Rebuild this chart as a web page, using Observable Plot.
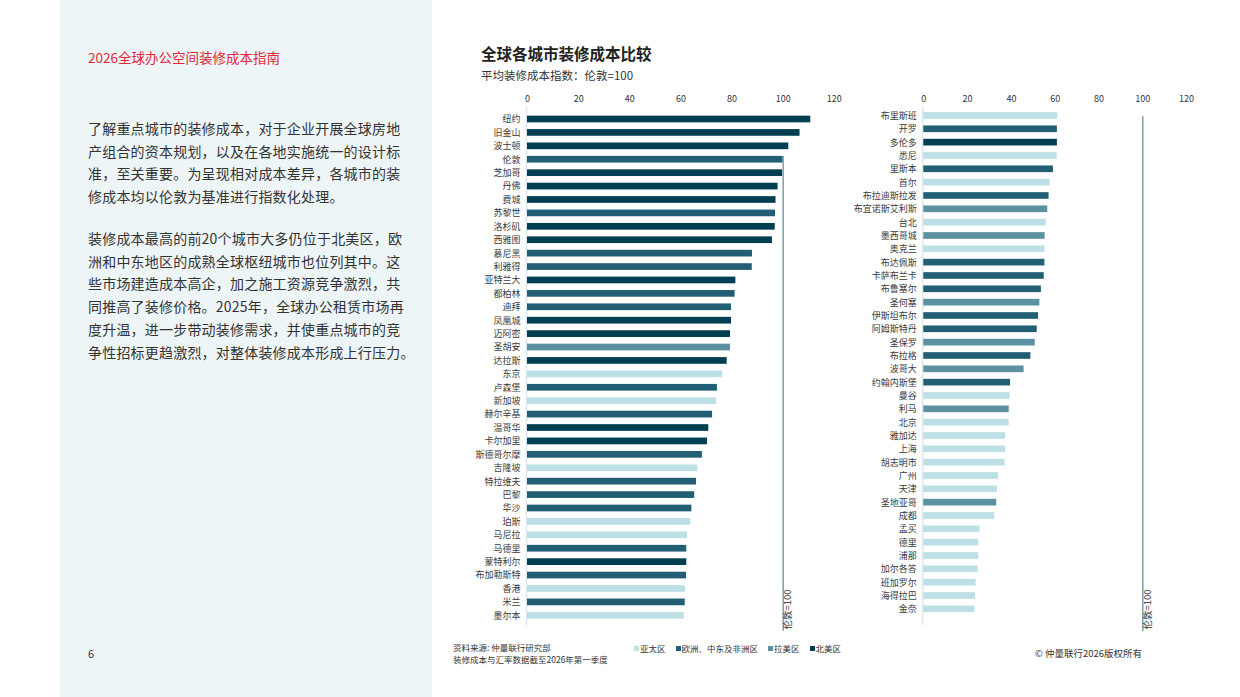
<!DOCTYPE html>
<html><head><meta charset="utf-8">
<script src="https://cdn.jsdelivr.net/npm/d3@7"></script>
<script src="https://cdn.jsdelivr.net/npm/@observablehq/plot@0.6"></script>
<style>
body{margin:0;width:1240px;height:697px;position:relative;background:#fff;font-family:"Noto Sans CJK SC","Noto Sans",sans-serif;color:#333;overflow:hidden}
.abs{position:absolute}
#panel{left:60px;top:0;width:372px;height:697px;background:#eef5f7}
#kicker{left:88px;top:48px;font-size:13.5px;line-height:18px;color:#e0283a;white-space:nowrap}
.para{left:88px;font-size:14px;line-height:22.7px;letter-spacing:0.2px;color:#333;white-space:nowrap}
#p1{top:117px}
#p2{top:227px}
#pageno{left:88px;top:645px;font-size:11px;line-height:16px;color:#333}
#title{left:481px;top:42px;font-size:15.5px;line-height:22px;font-weight:bold;color:#222;white-space:nowrap}
#subtitle{left:481px;top:67px;font-size:11.5px;line-height:17px;color:#333;white-space:nowrap}
#leftChart{left:440px;top:80px}
#rightChart{left:840px;top:80px}
#source{left:453px;top:641px;font-size:8.5px;line-height:12px;color:#333;white-space:nowrap}
#legend{left:634px;top:642px}
#copy{left:1035px;top:646px;font-size:9.5px;line-height:14px;color:#333;white-space:nowrap}
.lg-swatches{font-size:8.5px !important;font-family:"Noto Sans CJK SC",sans-serif !important;color:#333 !important;min-height:0 !important;margin:0 !important;line-height:12px}
.lg-swatch{margin-right:10px !important}
.lg-swatch > svg{margin-right:1px !important}
</style></head><body>
<div id="panel" class="abs"></div>
<div id="kicker" class="abs">2026全球办公空间装修成本指南</div>
<div id="p1" class="abs para">
<div>了解重点城市的装修成本，对于企业开展全球房地</div>
<div>产组合的资本规划，以及在各地实施统一的设计标</div>
<div>准，至关重要。为呈现相对成本差异，各城市的装</div>
<div>修成本均以伦敦为基准进行指数化处理。</div>
</div>
<div id="p2" class="abs para">
<div>装修成本最高的前20个城市大多仍位于北美区，欧</div>
<div>洲和中东地区的成熟全球枢纽城市也位列其中。这</div>
<div>些市场建造成本高企，加之施工资源竞争激烈，共</div>
<div>同推高了装修价格。2025年，全球办公租赁市场再</div>
<div>度升温，进一步带动装修需求，并使重点城市的竞</div>
<div>争性招标更趋激烈，对整体装修成本形成上行压力。</div>
</div>
<div id="pageno" class="abs">6</div>
<div id="title" class="abs">全球各城市装修成本比较</div>
<div id="subtitle" class="abs">平均装修成本指数：伦敦=100</div>
<div id="leftChart" class="abs"></div>
<div id="rightChart" class="abs"></div>
<div id="source" class="abs">资料来源: 仲量联行研究部<br>装修成本与汇率数据截至2026年第一季度</div>
<div id="legend" class="abs"></div>
<div id="copy" class="abs">© 仲量联行2026版权所有</div>
<script>
const regionKeys = ["AP", "EM", "LA", "NA"];
const regionNames = ["亚太区", "欧洲、中东及非洲区", "拉美区", "北美区"];
const regionColors = ["#bddfe6", "#235f74", "#5b91a0", "#003f52"];
const xTicks = [0, 20, 40, 60, 80, 100, 120];
const refLabel = "伦敦=100";

const leftCities = ["纽约","旧金山","波士顿","伦敦","芝加哥","丹佛","费城","苏黎世","洛杉矶","西雅图","慕尼黑","利雅得","亚特兰大","都柏林","迪拜","凤凰城","迈阿密","圣胡安","达拉斯","东京","卢森堡","新加坡","赫尔辛基","温哥华","卡尔加里","斯德哥尔摩","吉隆坡","特拉维夫","巴黎","华沙","珀斯","马尼拉","马德里","蒙特利尔","布加勒斯特","香港","米兰","墨尔本"];
const leftValues = [110.8,106.6,102.2,100,99.8,98.0,97.2,97.0,96.9,95.8,88.0,87.9,81.5,81.2,79.8,79.8,79.4,79.4,78.1,76.4,74.3,74.0,72.4,70.9,70.4,68.4,66.6,66.1,65.4,64.3,63.9,62.6,62.3,62.3,62.2,61.8,61.7,61.3];
const leftRegions = ["NA","NA","NA","EM","NA","NA","NA","EM","NA","NA","EM","EM","NA","EM","EM","NA","NA","LA","NA","AP","EM","AP","EM","NA","NA","EM","AP","EM","EM","EM","AP","AP","EM","NA","EM","AP","EM","AP"];

const rightCities = ["布里斯班","开罗","多伦多","悉尼","里斯本","首尔","布拉迪斯拉发","布宜诺斯艾利斯","台北","墨西哥城","奥克兰","布达佩斯","卡萨布兰卡","布鲁塞尔","圣何塞","伊斯坦布尔","阿姆斯特丹","圣保罗","布拉格","波哥大","约翰内斯堡","曼谷","利马","北京","雅加达","上海","胡志明市","广州","天津","圣地亚哥","成都","孟买","德里","浦那","加尔各答","班加罗尔","海得拉巴","金奈"];
const rightValues = [61.2,61.0,61.0,60.9,59.2,57.7,57.2,56.6,55.9,55.4,55.4,55.3,55.0,53.7,53.0,52.4,51.8,50.9,48.9,45.8,39.6,39.4,39.0,39.0,37.4,37.4,37.1,34.1,33.6,33.3,32.4,25.7,25.1,25.1,24.8,23.9,23.6,23.3];
const rightRegions = ["AP","EM","NA","AP","EM","AP","EM","LA","AP","LA","AP","EM","EM","EM","LA","EM","EM","LA","EM","LA","EM","AP","LA","AP","AP","AP","AP","AP","AP","LA","AP","AP","AP","AP","AP","AP","AP","AP"];

const font = '"Noto Sans CJK SC","Noto Sans",sans-serif';

function chart(cities, values, regs, o) {
  const data = cities.map((c, i) => ({city: c, value: values[i], region: regionNames[regionKeys.indexOf(regs[i])]}));
  return Plot.plot({
    width: o.width, height: 560,
    marginLeft: o.ml, marginRight: o.mr, marginTop: 26, marginBottom: 15,
    style: {fontFamily: font, fontSize: "9px", color: "#333", background: "transparent", overflow: "visible"},
    x: {domain: [0, 120], axis: null, label: null},
    y: {domain: cities, range: o.yRange, paddingInner: 0.5, paddingOuter: 0.25, round: false, axis: null, label: null},
    color: {domain: regionNames, range: regionColors},
    marks: [
      Plot.ruleX([0], {stroke: "#dce8ed", strokeWidth: 1.5, dx: -1}),
      Plot.axisX(xTicks, {anchor: "top", tickSize: 0, tickPadding: 5, fontSize: 9, fill: "#333"}),
      Plot.axisY({tickSize: 0, tickPadding: 7, fontSize: 9, fill: "#3a3a3a"}),
      Plot.barX(data, {x: "value", y: "city", fill: "region"}),
      Plot.ruleX([100], {y1: () => o.refStart, y2: () => cities[cities.length - 1], stroke: "#7f9cac", strokeWidth: 1.5, insetTop: o.insetTop, insetBottom: o.insetBottom}),
      Plot.text([refLabel], {text: d => d, x: () => 100, frameAnchor: "bottom", rotate: -90, textAnchor: "start", dx: 8, dy: 4, fontSize: 9.5, fill: "#333"})
    ]
  });
}

document.getElementById("leftChart").append(chart(leftCities, leftValues, leftRegions, {
  width: 420, ml: 87, mr: 26.2, yRange: [32.3, 542], refStart: "伦敦", insetTop: 0, insetBottom: -12
}));
document.getElementById("rightChart").append(chart(rightCities, rightValues, rightRegions, {
  width: 360, ml: 83.3, mr: 13.9, yRange: [28.8, 535.5], refStart: "布里斯班", insetTop: 4, insetBottom: -19
}));
document.getElementById("legend").append(Plot.legend({
  color: {type: "ordinal", domain: regionNames, range: regionColors},
  swatchSize: 5, className: "lg"
}));
</script>
</body></html>
